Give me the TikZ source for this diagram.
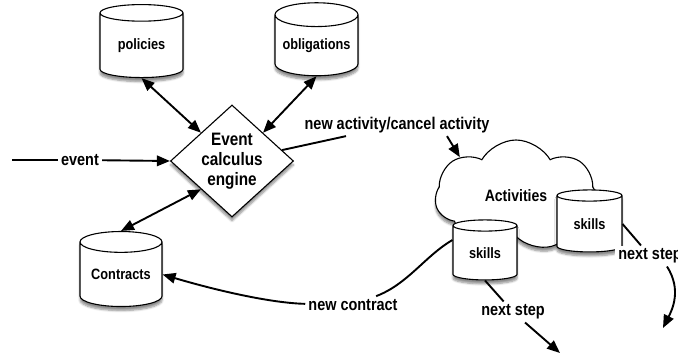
\documentclass[tikz,border=0pt]{standalone}
\usepackage{fontspec}
\setmainfont{Liberation Sans}[FakeStretch=0.85]
\usepackage{tikz}
\usetikzlibrary{arrows.meta}
\usetikzlibrary{positioning}
\usetikzlibrary{shapes.geometric}
\usetikzlibrary{shapes.symbols}
\usetikzlibrary{shadows.blur}
\tikzset{shade/.style = {blur shadow={shadow blur steps=6, shadow xshift=0pt, shadow yshift=-4pt, shadow opacity=45}}}
\tikzset{db/.style = {draw, fill=white, line width=1.1pt, cylinder, shape border rotate=90, aspect=0.35, inner sep=0, shade, font=\fontsize{15}{17}\selectfont\bfseries}}
\tikzset{engine/.style = {draw, fill=white, line width=1.1pt, diamond, aspect=1.1, inner sep=0, minimum width=123pt, minimum height=112pt, align=center, shade, font=\fontsize{18}{20}\selectfont\bfseries}}
\tikzset{activity/.style = {draw, fill=white, line width=1.1pt, cloud, cloud puffs=7, cloud puff arc=120, aspect=1.45, minimum width=162pt, minimum height=112pt, shade, font=\fontsize{16.5}{19}\selectfont\bfseries}}
\tikzset{lbl/.style = {fill=white, inner sep=3pt, font=\fontsize{17}{19}\selectfont\bfseries}}
\tikzset{link/.style = {line width=1.9pt}}
\tikzset{arr/.style = {link, -{Triangle[length=13pt,width=10.5pt]}}}
\tikzset{dbl/.style = {link, {Triangle[length=13pt,width=10.5pt]}-{Triangle[length=13pt,width=10.5pt]}}}

\begin{document}
\begin{tikzpicture}[x=1pt, y=-1pt]
\useasboundingbox (0,0) rectangle (678,358);

      % stores and engine
      \node [db, minimum width=83pt, minimum height=73pt] (policies) at (141.5, 45.5) {policies};
      \node [db, minimum width=83pt, minimum height=73pt] (obligations) at (316.5, 45.5) {obligations};
      \node [db, minimum width=82pt, minimum height=75pt] (contracts) at (121, 274.5) {Contracts};
      \node [engine] (engine) at (232, 161) {Event\\calculus\\engine};

      % activities
      \node [activity] (cloud) at (516, 196) {Activities};
      \node [db, minimum width=64pt, minimum height=60pt] (skillsA) at (485, 253) {skills};
      \node [db, minimum width=65pt, minimum height=62pt] (skillsB) at (589.5, 224) {skills};

      % labels
      \node [lbl] (evt) at (80, 160) {event};
      \node [lbl] (act) at (397, 125) {new activity/cancel activity};
      \node [lbl] (ctr) at (353, 305) {new contract};
      \node [lbl] (stepA) at (513, 312) {next step};
      \node [lbl] (stepB) at (650, 256) {next step};
      \coordinate (src) at (12, 160);
      \coordinate (endA) at (560, 353);
      \coordinate (endB) at (663, 328);

      \draw [dbl] (policies.south) -- (engine.north west);
      \draw [dbl] (obligations.south) -- (engine.north east);
      \draw [dbl] (contracts.north) -- (engine.south west);
      \draw [link] (src) -- (evt);
      \draw [arr] (evt) -- (engine.west);
      \draw [link] (engine) -- (act);
      \draw [arr] ([xshift=50pt]act.south) -- (cloud.north west);
      \draw [link] ([yshift=13pt]skillsA.west) .. controls (425, 256) and (408, 284) .. (ctr);
      \draw [arr] (ctr) .. controls (270, 303) and (215, 290) .. (contracts.east);
      \draw [link] (skillsA.south) -- (stepA);
      \draw [arr] (stepA) -- (endA);
      \draw [link] (skillsB.east) -- (stepB);
      \draw [arr] ([xshift=17pt]stepB.south) .. controls (682, 290) and (672, 310) .. (endB);
    \end{tikzpicture}
\end{document}
